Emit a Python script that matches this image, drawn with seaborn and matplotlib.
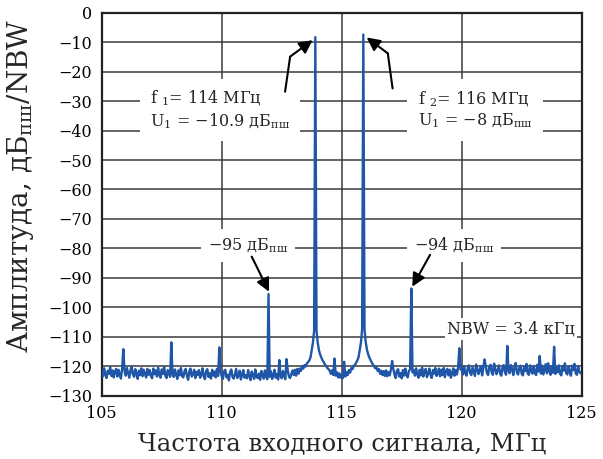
import numpy as np
import pandas as pd
import matplotlib
matplotlib.use("Agg")
import matplotlib.pyplot as plt
import seaborn as sns

# ---------------- data ----------------
f_start = 105.0
f_step = 0.05
# noise floor / skirt levels, one row per MHz (20 samples each, dB)
r105 = [-121.2,-123.4,-120.7,-122.9,-124.0,-121.5,-122.6,-120.3,-123.3,-121.4,-123.8,-121.9,-120.9,-123.5,-121.2,-122.9,-124.2,-120.8,-122.7,-121.6]
r106 = [-123.2,-120.6,-122.3,-123.9,-121.3,-120.1,-122.8,-123.6,-121.0,-122.4,-124.3,-121.5,-123.0,-120.7,-123.4,-121.2,-122.6,-123.8,-120.9,-122.9]
r107 = [-121.3,-123.3,-124.1,-120.8,-122.7,-121.4,-123.5,-120.5,-122.9,-123.9,-121.1,-122.6,-120.2,-123.2,-124.0,-121.3,-122.4,-123.6,-120.9,-122.8]
r108 = [-123.6,-121.1,-122.8,-124.3,-121.4,-123.1,-120.6,-123.4,-123.8,-121.6,-120.9,-123.3,-124.6,-121.7,-120.8,-123.5,-122.7,-121.2,-124.0,-121.9]
r109 = [-123.0,-121.3,-123.9,-122.8,-120.7,-123.4,-124.4,-121.6,-121.0,-123.6,-122.4,-124.2,-121.2,-123.2,-121.8,-123.8,-120.9,-123.3,-124.1,-121.9]
r110 = [-123.4,-124.3,-121.6,-121.2,-123.8,-122.9,-124.8,-121.9,-121.1,-123.6,-124.2,-122.8,-120.9,-124.0,-123.1,-121.5,-124.5,-122.6,-121.3,-123.9]
r111 = [-123.0,-124.1,-121.3,-123.4,-124.7,-121.8,-123.2,-124.3,-121.1,-123.6,-124.0,-122.5,-124.6,-121.6,-123.0,-124.2,-121.4,-123.5,-124.4,-122.0]
r112 = [-123.6,-121.7,-124.3,-123.0,-121.2,-123.9,-122.6,-124.5,-121.5,-123.4,-124.1,-121.6,-123.2,-124.4,-122.0,-121.3,-123.5,-124.0,-122.7,-121.4]
r113 = [-123.0,-121.2,-123.2,-120.9,-122.5,-120.8,-121.6,-120.0,-120.8,-119.6,-120.1,-119.0,-118.6,-118.0,-117.0,-114.5,-112.0,-108.0,-118.0,-108.0]
r114 = [-112.0,-114.5,-116.0,-117.0,-118.0,-118.6,-119.4,-119.9,-120.6,-121.0,-121.5,-122.6,-121.4,-123.0,-122.0,-123.2,-122.0,-123.8,-122.4,-123.9]
r115 = [-122.8,-124.0,-122.0,-123.5,-122.0,-123.0,-121.3,-122.2,-120.6,-121.0,-119.8,-119.6,-118.8,-118.0,-117.0,-114.5,-112.0,-107.5,-118.0,-107.5]
r116 = [-111.8,-114.3,-115.9,-117.0,-117.9,-118.7,-119.4,-120.0,-120.7,-120.4,-121.6,-121.0,-122.6,-121.5,-123.0,-121.6,-123.3,-121.4,-123.4,-122.0]
r117 = [-123.1,-121.2,-123.6,-120.9,-122.9,-124.0,-121.5,-121.0,-123.5,-122.3,-124.1,-121.3,-123.2,-120.8,-122.9,-123.8,-121.6,-121.1,-123.4,-122.1]
r118 = [-121.3,-123.2,-120.7,-122.8,-123.9,-121.2,-123.1,-120.5,-123.5,-121.6,-120.9,-123.7,-122.6,-120.8,-122.9,-124.0,-121.3,-122.5,-120.6,-123.3]
r119 = [-122.5,-120.8,-123.4,-121.2,-123.0,-120.6,-123.7,-121.5,-120.9,-123.1,-121.2,-123.9,-122.4,-120.7,-123.2,-121.3,-122.8,-120.4,-123.6,-121.1]
r120 = [-120.9,-122.8,-120.0,-122.4,-123.2,-120.6,-119.7,-122.3,-123.0,-120.4,-121.9,-123.3,-119.4,-121.0,-122.7,-121.2,-119.9,-123.1,-120.6,-122.5]
r121 = [-119.8,-122.3,-123.0,-120.3,-119.5,-122.2,-122.9,-119.1,-121.0,-122.7,-121.3,-119.7,-122.5,-123.2,-120.4,-119.6,-122.1,-122.9,-120.1,-121.5]
r122 = [-122.4,-119.6,-121.0,-123.0,-120.1,-118.9,-122.2,-122.8,-120.5,-119.8,-122.6,-123.1,-120.0,-121.6,-119.2,-122.4,-122.9,-119.7,-121.7,-122.5]
r123 = [-119.9,-122.3,-123.0,-119.5,-121.8,-118.8,-122.5,-119.8,-122.8,-121.0,-119.3,-122.4,-119.0,-121.5,-122.9,-120.0,-122.2,-119.4,-122.6,-120.6]
r124 = [-122.0,-119.7,-122.6,-123.1,-120.0,-121.5,-119.0,-122.3,-122.8,-120.1,-121.9,-123.2,-119.8,-121.3,-119.2,-122.4,-122.9,-119.9,-121.8,-122.4]

peak_freq = [113.9, 115.9]
peak_level = [-8.3, -7.4]

spur_freq = [105.9, 107.9, 109.9, 111.95, 112.4, 112.7, 114.7, 115.1, 117.1, 117.9, 119.9, 120.95, 121.9, 123.25, 123.85]
spur_level = [-114.2, -111.9, -113.6, -95.5, -117.9, -117.6, -117.4, -118.5, -118.2, -93.6, -113.9, -117.7, -113.1, -116.5, -113.4]

x_ticks = [105, 110, 115, 120, 125]
y_ticks = list(range(0, -131, -10))

# ---------------- build series ----------------
rows = [r105, r106, r107, r108, r109, r110, r111, r112, r113, r114,
        r115, r116, r117, r118, r119, r120, r121, r122, r123, r124]
level = np.concatenate([np.array(r, dtype=float) for r in rows])
freq = f_start + f_step * np.arange(level.size)
for f, l in zip(spur_freq + peak_freq, spur_level + peak_level):
    level[int(round((f - f_start) / f_step))] = l
df = pd.DataFrame({"freq": freq, "level": level})

# ---------------- style ----------------
sns.set_style("white")
plt.rcParams["font.family"] = ["DejaVu Serif"]
plt.rcParams["mathtext.fontset"] = "custom"
plt.rcParams["mathtext.rm"] = "DejaVu Serif"
plt.rcParams["mathtext.it"] = "DejaVu Serif:italic"
plt.rcParams["axes.unicode_minus"] = True

fig = plt.figure(figsize=(6.03, 4.59), dpi=100)
ax = fig.add_axes([0.1687, 0.1379, 0.7960, 0.8344])

ax.set_xlim(105, 125)
ax.set_ylim(-130, 0)
ax.set_xticks(x_ticks)
ax.set_yticks(y_ticks)
ax.grid(True, color="#3a3a3a", lw=1.1, zorder=0)
ax.set_axisbelow(True)

sns.lineplot(data=df, x="freq", y="level", ax=ax, estimator=None, sort=False,
             color="#1f56a8", lw=1.7, zorder=3)

for s in ax.spines.values():
    s.set_color("#222222")
    s.set_linewidth(1.6)
ax.tick_params(axis="both", length=0, labelsize=11.5, pad=7, colors="black")

sub = r"$_{\mathrm{пш}}$"
ax.set_xlabel("Частота входного сигнала, МГц", fontsize=17.5, labelpad=7)
ax.set_ylabel("Амплитуда, дБ" + sub + "/NBW", fontsize=20)
ax.yaxis.set_label_coords(-0.137, 0.548)

tk = dict(fontsize=11.5, zorder=5)
box = dict(facecolor="white", edgecolor="none", boxstyle="square,pad=0.65")
ax.text(109.93, -33.0, "f $_1$= 114 МГц\nU$_1$ = −10.9 дБ" + sub,
        ha="center", va="center", multialignment="left", linespacing=1.2,
        bbox=box, **tk)
ax.text(120.55, -33.0, "f $_2$= 116 МГц\nU$_1$ = −8 дБ" + sub,
        ha="center", va="center", multialignment="left", linespacing=1.2,
        bbox=box, **tk)
sbox = dict(facecolor="white", edgecolor="none", boxstyle="square,pad=0.45")
ax.text(111.1, -79.0, "−95 дБ" + sub, ha="center", va="center", bbox=sbox, **tk)
ax.text(119.68, -79.0, "−94 дБ" + sub, ha="center", va="center", bbox=sbox, **tk)
ax.text(122.05, -107.4, "NBW = 3.4 кГц", ha="center", va="center",
        bbox=dict(facecolor="white", edgecolor="none", boxstyle="square,pad=0.15"), **tk)

arrow = dict(arrowstyle="-|>", color="black", lw=1.5, mutation_scale=20,
             shrinkA=0, shrinkB=0)
# kinked arrows to main tones
ax.plot([112.64, 112.85], [-26.8, -14.9], color="black", lw=1.5, zorder=6)
ax.annotate("", xy=(113.79, -9.3), xytext=(112.85, -14.9), arrowprops=arrow, zorder=6)
ax.plot([117.12, 116.92], [-25.7, -13.8], color="black", lw=1.5, zorder=6)
ax.annotate("", xy=(116.04, -8.4), xytext=(116.92, -13.8), arrowprops=arrow, zorder=6)
# arrows to spurs
ax.annotate("", xy=(111.97, -94.7), xytext=(111.25, -82.8), arrowprops=arrow, zorder=6)
ax.annotate("", xy=(117.94, -93.0), xytext=(118.68, -82.2), arrowprops=arrow, zorder=6)

fig.savefig("out.png", dpi=100)
